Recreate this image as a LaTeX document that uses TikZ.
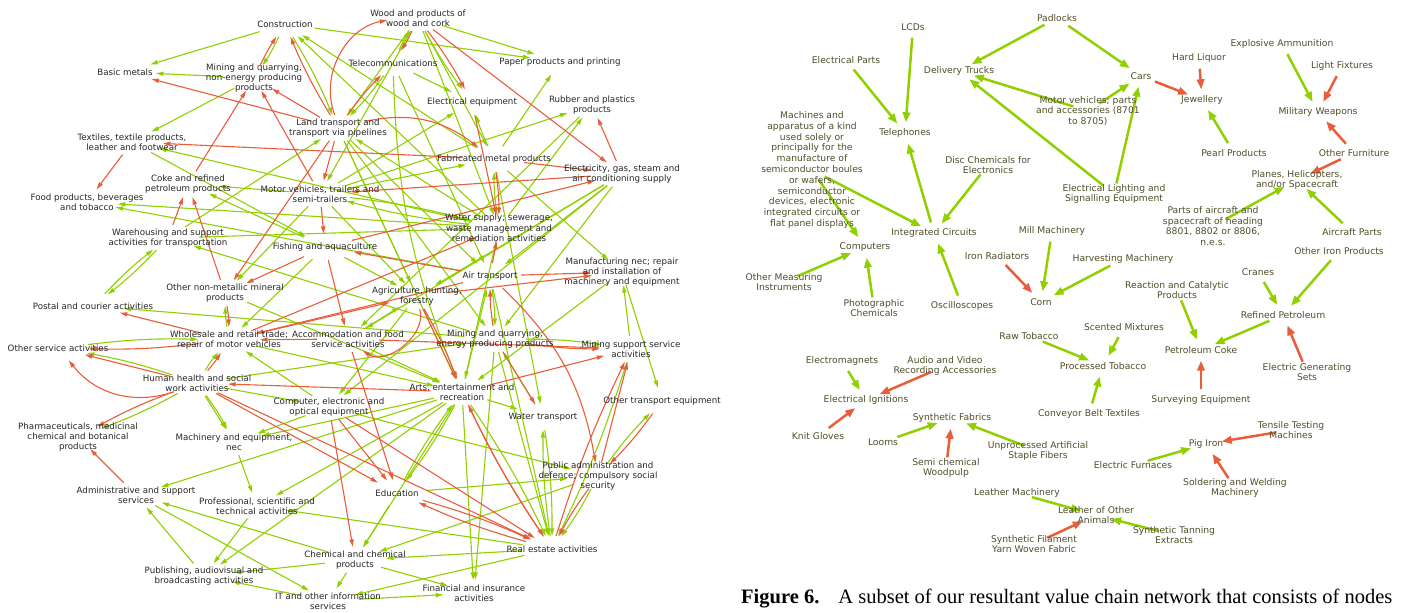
\documentclass[tikz,border=0pt]{standalone}
\usepackage{fontspec}
\setmainfont{DejaVu Sans}
\newfontfamily\capfont{Liberation Serif}
\usetikzlibrary{arrows.meta,backgrounds,shapes.geometric}
\definecolor{eg}{RGB}{145,208,0}
\definecolor{er}{RGB}{232,93,58}
\definecolor{tl}{RGB}{38,38,38}
\definecolor{tr}{RGB}{78,78,40}
\newcommand\LN[4]{\node[lh] (#1) at (#2,#3) {};\node[ln] (#1t) at (#2,#3) {#4};}
\newcommand\RN[4]{\node[rh] (#1) at (#2,#3) {};\node[rn] (#1t) at (#2,#3) {#4};}
\begin{document}
\begin{tikzpicture}[x=1pt,y=-1pt,
 ln/.style={text=tl,align=center,font=\fontsize{8.7}{10.4}\selectfont,inner sep=0pt},
 rn/.style={text=tr,align=center,font=\fontsize{9.2}{10.8}\selectfont,inner sep=0pt},
 lh/.style={ellipse,inner sep=0pt,minimum width=62pt,minimum height=26pt},
 rh/.style={ellipse,inner sep=0pt,minimum width=32pt,minimum height=21pt},
 ge/.style={draw=eg,line width=1.1pt,-{Triangle[length=7.5pt,width=4.2pt]}},
 re/.style={draw=er,line width=1.1pt,-{Triangle[length=7.5pt,width=4.2pt]}},
 rg/.style={draw=eg,line width=2.5pt,-{Triangle[length=10pt,width=7.5pt]}},
 rr/.style={draw=er,line width=2.5pt,-{Triangle[length=10pt,width=7.5pt]}}]
\useasboundingbox (0,0) rectangle (1403,613);
% ---------------- left graph nodes
\LN{CON}{285}{24}{Construction}
\LN{WOOD}{418}{18}{Wood and products of\\wood and cork}
\LN{BAS}{125}{72}{Basic metals}
\LN{MNE}{254}{78}{Mining and quarrying,\\non-energy producing\\products}
\LN{TEL}{393}{63}{Telecommunications}
\LN{PAP}{560}{62}{Paper products and printing}
\LN{ELQ}{472}{102}{Electrical equipment}
\LN{RUB}{592}{105}{Rubber and plastics\\products}
\LN{LAND}{338}{128}{Land transport and\\transport via pipelines}
\LN{TEX}{132}{142}{Textiles, textile products,\\leather and footwear}
\LN{FAB}{494}{159}{Fabricated metal products}
\LN{ELC}{622}{174}{Electricity, gas, steam and\\air conditioning supply}
\LN{COKE}{188}{184}{Coke and refined\\petroleum products}
\LN{MOT}{320}{194}{Motor vehicles, trailers and\\semi-trailers}
\LN{FOOD}{87}{202}{Food products, beverages\\and tobacco}
\LN{WAT}{499}{228}{Water supply; sewerage,\\waste management and\\remediation activities}
\LN{WARE}{168}{238}{Warehousing and support\\activities for transportation}
\LN{FISH}{325}{247}{Fishing and aquaculture}
\LN{AIR}{490}{276}{Air transport}
\LN{MAN}{622}{272}{Manufacturing nec; repair\\and installation of\\machinery and equipment}
\LN{AGR}{417}{296}{Agriculture, hunting,\\forestry}
\LN{ONM}{225}{293}{Other non-metallic mineral\\products}
\LN{POST}{93}{306}{Postal and courier activities}
\LN{WHO}{229}{340}{Wholesale and retail trade;\\repair of motor vehicles}
\LN{ACC}{348}{339}{Accommodation and food\\service activities}
\LN{MEP}{495}{339}{Mining and quarrying,\\energy producing products}
\LN{MSS}{631}{349}{Mining support service\\activities}
\LN{OSA}{58}{348}{Other service activities}
\LN{HUM}{197}{383}{Human health and social\\work activities}
\LN{ARTS}{462}{392}{Arts, entertainment and\\recreation}
\LN{COMP}{329}{407}{Computer, electronic and\\optical equipment}
\LN{OTE}{662}{401}{Other transport equipment}
\LN{WTR}{543}{417}{Water transport}
\LN{PHA}{78}{437}{Pharmaceuticals, medicinal\\chemical and botanical\\products}
\LN{MACH}{234}{442}{Machinery and equipment,\\nec}
\LN{PUB}{598}{476}{Public administration and\\defence; compulsory social\\security}
\LN{ADM}{136}{495}{Administrative and support\\services}
\LN{EDU}{397}{493}{Education}
\LN{PRO}{257}{506}{Professional, scientific and\\technical activities}
\LN{REAL}{552}{549}{Real estate activities}
\LN{CHEM}{355}{560}{Chemical and chemical\\products}
\LN{PUBL}{204}{576}{Publishing, audiovisual and\\broadcasting activities}
\LN{FIN}{474}{593}{Financial and insurance\\activities}
\LN{IT}{328}{601}{IT and other information\\services}
% ---------------- right graph nodes
\RN{rPAD}{1057}{18}{Padlocks}
\RN{rLCD}{913}{27}{LCDs}
\RN{rEPA}{846}{60}{Electrical Parts}
\RN{rDEL}{959}{71}{Delivery Trucks}
\RN{rCAR}{1141}{76}{Cars}
\RN{rHL}{1199}{58}{Hard Liquor}
\RN{rEXP}{1282}{44}{Explosive Ammunition}
\RN{rLF}{1342}{66}{Light Fixtures}
\RN{rJEW}{1202}{100}{Jewellery}
\RN{rMVP}{1088}{111}{Motor vehicles; parts\\and accessories (8701\\to 8705)}
\RN{rMW}{1318}{112}{Military Weapons}
\RN{rTEL}{905}{133}{Telephones}
\RN{rMAC}{812}{170}{Machines and\\apparatus of a kind\\used solely or\\principally for the\\manufacture of\\semiconductor boules\\or wafers,\\semiconductor\\devices, electronic\\integrated circuits or\\flat panel displays}
\RN{rDISC}{988}{165}{Disc Chemicals for\\Electronics}
\RN{rPEARL}{1234}{153}{Pearl Products}
\RN{rOF}{1354}{153}{Other Furniture}
\RN{rPL}{1297}{180}{Planes, Helicopters,\\and/or Spacecraft}
\RN{rELS}{1114}{194}{Electrical Lighting and\\Signalling Equipment}
\RN{rIC}{934}{233}{Integrated Circuits}
\RN{rPA}{1213}{226}{Parts of aircraft and\\spacecraft of heading\\8801, 8802 or 8806,\\n.e.s.}
\RN{rAP}{1352}{232}{Aircraft Parts}
\RN{rCOMP}{865}{247}{Computers}
\RN{rMILL}{1052}{231}{Mill Machinery}
\RN{rIR}{997}{256}{Iron Radiators}
\RN{rHARV}{1123}{259}{Harvesting Machinery}
\RN{rOIP}{1339}{251}{Other Iron Products}
\RN{rOMI}{784}{282}{Other Measuring\\Instruments}
\RN{rCRA}{1258}{272}{Cranes}
\RN{rREA}{1177}{290}{Reaction and Catalytic\\Products}
\RN{rPHO}{874}{308}{Photographic\\Chemicals}
\RN{rOSC}{962}{306}{Oscilloscopes}
\RN{rCORN}{1041}{302}{Corn}
\RN{rREF}{1283}{315}{Refined Petroleum}
\RN{rRAW}{1029}{336}{Raw Tobacco}
\RN{rSCE}{1124}{327}{Scented Mixtures}
\RN{rPC}{1201}{350}{Petroleum Coke}
\RN{rPT}{1103}{366}{Processed Tobacco}
\RN{rEM}{842}{361}{Electromagnets}
\RN{rAV}{945}{366}{Audio and Video\\Recording Accessories}
\RN{rEGS}{1307}{372}{Electric Generating\\Sets}
\RN{rEI}{866}{400}{Electrical Ignitions}
\RN{rSUR}{1201}{400}{Surveying Equipment}
\RN{rCBT}{1089}{414}{Conveyor Belt Textiles}
\RN{rSF}{952}{418}{Synthetic Fabrics}
\RN{rKG}{818}{436}{Knit Gloves}
\RN{rLOOM}{883}{442}{Looms}
\RN{rTT}{1291}{430}{Tensile Testing\\Machines}
\RN{rUAS}{1038}{451}{Unprocessed Artificial\\Staple Fibers}
\RN{rPIG}{1206}{444}{Pig Iron}
\RN{rSCW}{946}{468}{Semi chemical\\Woodpulp}
\RN{rEF}{1133}{465}{Electric Furnaces}
\RN{rSWM}{1235}{488}{Soldering and Welding\\Machinery}
\RN{rLM}{1017}{493}{Leather Machinery}
\RN{rLOA}{1096}{515}{Leather of Other\\Animals}
\RN{rSTE}{1174}{535}{Synthetic Tanning\\Extracts}
\RN{rSFY}{1034}{544}{Synthetic Filament\\Yarn Woven Fabric}
% ---------------- caption
\node[anchor=base west,inner sep=0pt,font=\capfont\fontsize{20.5}{24}\selectfont] (cap) at (741,603) {\textbf{Figure 6.}\hspace{19pt}A subset of our resultant value chain network that consists of nodes};
% ---------------- edges
\begin{pgfonlayer}{background}
% left, green straight
\foreach \a/\b in {CON/BAS,MNE/BAS,MNE/TEX,CON/PAP,FAB/CON,WAT/CON,TEL/ELQ,WOOD/PAP,WOOD/FAB,WOOD/WAT,WOOD/LAND,FAB/PAP,MOT/RUB,WAT/RUB,MOT/ELQ,WAT/TEX,TEX/FISH,MOT/COKE,FISH/COKE,WARE/LAND,AIR/FOOD,WAT/FOOD,MEP/WARE,WARE/WAT,MOT/ONM,FISH/AGR,MOT/AGR,FISH/WHO,ONM/ARTS,MEP/POST,COMP/WHO,WHO/ARTS,ACC/AGR,ACC/ARTS,ARTS/AIR,ELC/AIR,ELC/MEP,MSS/MAN,MAN/OTE,ARTS/WTR,EDU/PUB,PUB/CHEM,COMP/PUB,EDU/CHEM,MEP/REAL,AIR/REAL,REAL/CHEM,REAL/IT,REAL/PRO,CHEM/ADM,CHEM/PUBL,CHEM/IT,CHEM/FIN,IT/FIN,ADM/IT,IT/PUBL,PUBL/ADM,PRO/PUBL,ARTS/ADM,HUM/MACH,COMP/MACH,ARTS/MACH,MACH/PRO,ARTS/PRO,HUM/COMP,HUM/MEP,AGR/COMP,FAB/MAN,MOT/FAB,WAT/LAND,LAND/AGR,LAND/AIR,ARTS/FIN,MEP/FIN,ARTS/CHEM,ARTS/PUBL,ELC/COMP,ELC/AGR,ELC/ACC,TEL/AIR,LAND/MEP,LAND/ARTS,WAT/ARTS,WOOD/MOT,WTR/MEP,FAB/WTR,RUB/ACC,MAN/ARTS}
  \draw[ge] (\a) -- (\b);
% left, green with a slight bend (pairs)
\foreach \a/\b in {CON/MNE,CON/LAND,TEL/LAND,TEL/WOOD,FAB/ELQ,POST/WARE,WARE/POST,WHO/ONM,OSA/WHO,HUM/WHO,MEP/MSS,AIR/MEP,MSS/REAL,PUB/OTE,REAL/WTR,WTR/REAL,PUB/REAL,EDU/ARTS,ARTS/EDU,ARTS/REAL,HUM/PHA,MOT/WAT,WAT/MOT,WAT/FAB,HUM/MACH}
  \draw[ge] (\a) to[bend left=4] (\b);
\foreach \a/\b in {WOOD/ELQ,HUM/OSA}
  \draw[ge] (\a) to[bend right=4] (\b);
\draw[ge] (TEL) to[bend right=10] (ARTS);
% left, red straight
\foreach \a/\b in {LAND/BAS,LAND/MNE,MOT/MNE,COKE/MNE,WOOD/ELC,ELQ/WAT,FAB/TEX,FAB/ELC,ELC/RUB,ELC/MOT,FISH/ELC,TEX/FOOD,WARE/COKE,ONM/COKE,LAND/ONM,FISH/ONM,FISH/ACC,LAND/MOT,MOT/FISH,AIR/FISH,WHO/POST,HUM/OSA,AIR/WHO,ACC/WHO,ACC/MSS,ACC/EDU,AGR/ARTS,ARTS/MSS,MEP/WTR,AGR/MAN,AIR/MAN,AIR/WAT,PUB/MSS,COMP/EDU,HUM/EDU,COMP/CHEM,ADM/PHA,ARTS/HUM,HUM/REAL,WHO/WAT,WHO/AGR,COMP/REAL}
  \draw[re] (\a) -- (\b);
\foreach \a/\b in {MNE/CON,LAND/CON,WOOD/TEL,WOOD/ELQ,LAND/TEL,FAB/WAT,ONM/WHO,WHO/OSA,MEP/AIR,AGR/ARTS,OTE/PUB,REAL/EDU,EDU/REAL,REAL/ARTS,REAL/MSS}
  \draw[re] (\a) to[bend left=4] (\b);
\foreach \a/\b in {HUM/WHO,PUB/REAL,ARTS/REAL,HUM/PHA,MEP/MSS}
  \draw[re] (\a) to[bend right=4] (\b);
\draw[re] (LAND) to[bend left=50] (WOOD);
\draw[re] (HUM) to[bend left=35] (OSA);
\draw[re] (AGR) to[bend left=70] (ACC);
\draw[re] (LAND) to[bend left=25] (FAB);
\draw[re] (AIR) to[bend left=18] (PUB);
% right graph
\foreach \a/\b in {rPAD/rDEL,rPAD/rCAR,rMVP/rDEL,rMVP/rCAR,rELS/rDEL,rELS/rCAR,rLCD/rTEL,rEPA/rTEL,rIC/rTEL,rMAC/rIC,rMAC/rCOMP,rDISC/rIC,rOSC/rIC,rOMI/rCOMP,rPHO/rCOMP,rPEARL/rJEW,rEXP/rMW,rPA/rPL,rAP/rPL,rMILL/rCORN,rHARV/rCORN,rOIP/rREF,rCRA/rREF,rREA/rPC,rREF/rPC,rRAW/rPT,rSCE/rPT,rCBT/rPT,rEM/rEI,rLOOM/rSF,rUAS/rSF,rEF/rPIG,rLM/rLOA,rSTE/rLOA}
  \draw[rg] (\a) -- (\b);
\foreach \a/\b in {rCAR/rJEW,rHL/rJEW,rLF/rMW,rOF/rMW,rOF/rPL,rIR/rCORN,rEGS/rREF,rSUR/rPC,rAV/rEI,rKG/rEI,rSCW/rSF,rTT/rPIG,rSWM/rPIG,rSFY/rLOA}
  \draw[rr] (\a) -- (\b);
\end{pgfonlayer}
\end{tikzpicture}
\end{document}
